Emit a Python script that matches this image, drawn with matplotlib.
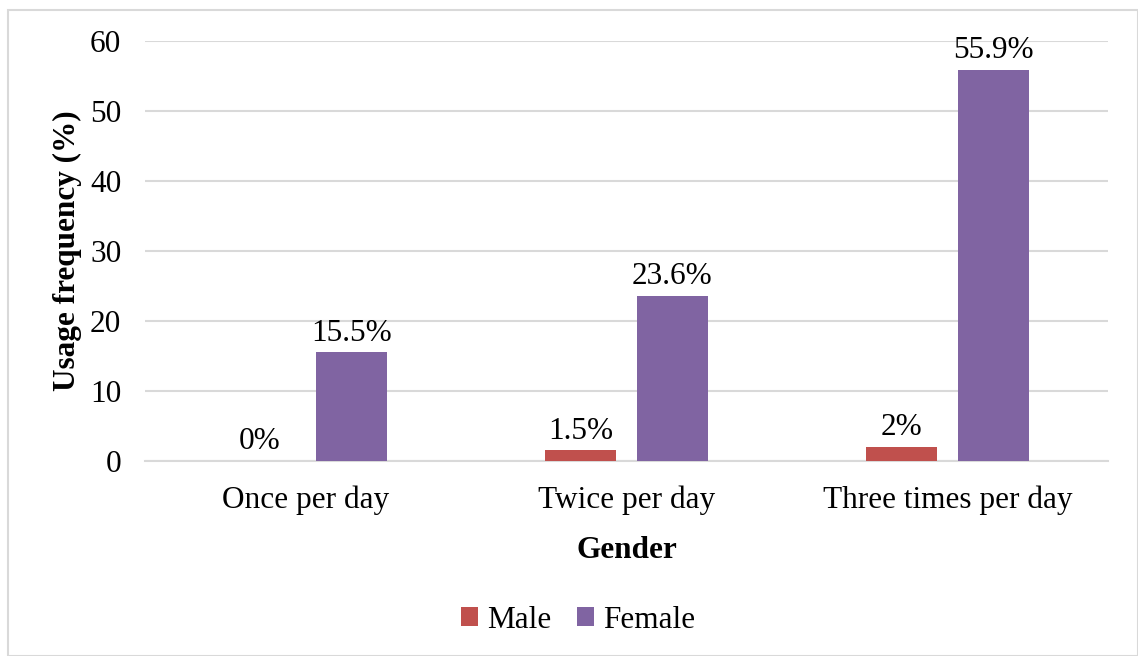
import numpy as np
import matplotlib.pyplot as plt
from matplotlib.patches import Rectangle

categories = ['Once per day', 'Twice per day', 'Three times per day']
male = [0, 1.5, 2]
female = [15.5, 23.6, 55.9]
male_labels = ['0%', '1.5%', '2%']
female_labels = ['15.5%', '23.6%', '55.9%']

plt.rcParams['font.family'] = ['Liberation Serif', 'DejaVu Serif']
FS = 22.5

fig = plt.figure(figsize=(11.38, 6.56), dpi=100)
ax = fig.add_axes([0.1274, 0.2973, 0.8462, 0.6402])

# outer chart border
fig.patches.append(Rectangle((8 / 1138, 0), 1 - 8 / 1138, 1 - 10 / 656,
                             transform=fig.transFigure, fill=False,
                             edgecolor='#D9D9D9', linewidth=1.5))

x = np.arange(len(categories))
w = 0.221
off = 0.143
b1 = ax.bar(x - off, male, w, color='#C0504D', label='Male', zorder=3)
b2 = ax.bar(x + off, female, w, color='#8064A2', label='Female', zorder=3)

for bars, labs in [(b1, male_labels), (b2, female_labels)]:
    for rect, lab in zip(bars, labs):
        ax.text(rect.get_x() + rect.get_width() / 2, rect.get_height() + 0.7, lab,
                ha='center', va='bottom', fontsize=FS)

ax.set_xlim(-0.5, 2.5)
ax.set_ylim(0, 60)
ax.set_yticks(range(0, 61, 10))
ax.set_xticks(x)
ax.set_xticklabels(categories, fontsize=FS)
ax.tick_params(axis='y', labelsize=FS, length=0, pad=17)
ax.tick_params(axis='x', length=0, pad=18)
ax.grid(axis='y', color='#D9D9D9', linewidth=1.5, zorder=0)
for s in ['top', 'right', 'left']:
    ax.spines[s].set_visible(False)
ax.spines['bottom'].set_color('#D9D9D9')
ax.spines['bottom'].set_linewidth(1.5)

ax.set_xlabel('Gender', fontsize=FS, fontweight='bold', labelpad=15)
ax.set_ylabel('Usage frequency (%)', fontsize=FS, fontweight='bold', labelpad=6)

fig.legend(handles=[b1, b2], loc='center', bbox_to_anchor=(578 / 1138, 1 - 620 / 656),
           ncol=2, frameon=False, fontsize=FS, handlelength=0.55, handleheight=0.55,
           handletextpad=0.3, columnspacing=0.8)

fig.savefig('out.png', dpi=100)
